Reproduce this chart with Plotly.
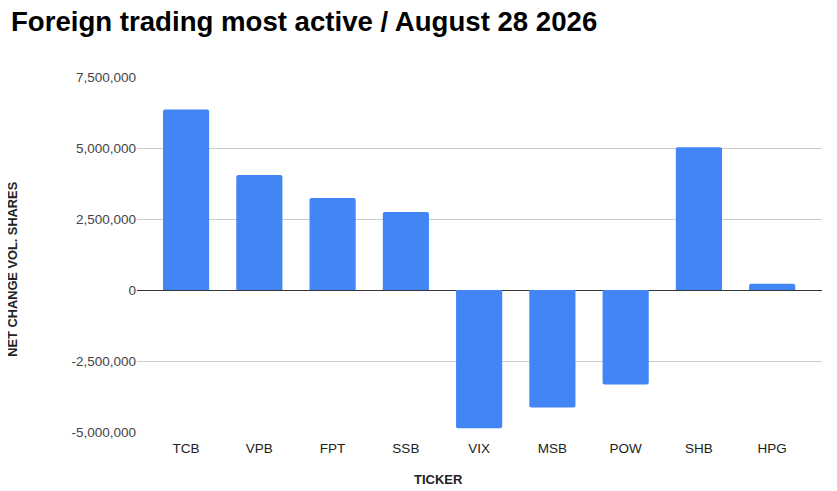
import plotly.graph_objects as go

tickers = ["TCB", "VPB", "FPT", "SSB", "VIX", "MSB", "POW", "SHB", "HPG"]
net_change = [6360000, 4050000, 3240000, 2750000, -4870000, -4140000, -3330000, 5030000, 220000]
y_ticks = [-5000000, -2500000, 0, 2500000, 5000000, 7500000]
y_tick_labels = ["-5,000,000", "-2,500,000", "0", "2,500,000", "5,000,000", "7,500,000"]

# page has an 8px body margin: figure coordinates = reference pixel - 8
OFF = 8
W, H = 837 - OFF, 491 - OFF
L, R, T, B = 137 - OFF, W - (822 - OFF), 77 - OFF, H - (432.5 - OFF)
PW = W - L - R
PH = H - T - B

def px_x(x):
    return (x - OFF - L) / PW

def px_y(y):
    return (H - B - (y - OFF)) / PH

fig = go.Figure(go.Bar(
    x=tickers, y=net_change,
    marker=dict(color="#4285f4", cornerradius=2, line=dict(width=0)),
    width=0.63,
))

fig.update_layout(
    width=W, height=H,
    paper_bgcolor="white", plot_bgcolor="white",
    margin=dict(l=L, r=R, t=T, b=B, autoexpand=False),
    font=dict(family="Liberation Sans, Arial, sans-serif", color="#444444", size=13.5),
    showlegend=False,
    annotations=[
        dict(text="<b>Foreign trading most active / August 28 2026</b>", xref="paper", yref="paper",
             x=px_x(9), y=px_y(21), xanchor="left", yanchor="middle", showarrow=False,
             font=dict(size=27.6, color="#000000")),
        dict(text="<b>TICKER</b>", xref="paper", yref="paper",
             x=px_x(438), y=px_y(480),
             xanchor="center", yanchor="middle", showarrow=False,
             font=dict(size=13, color="#222222")),
        dict(text="<b>NET CHANGE VOL. SHARES</b>", xref="paper", yref="paper",
             x=px_x(13), y=px_y(269),
             xanchor="center", yanchor="middle", showarrow=False, textangle=-90,
             font=dict(size=12.8, color="#222222")),
    ],
)

fig.update_xaxes(
    range=[-0.67, 8.68], showgrid=False, showline=False, ticks="", automargin=False,
    tickfont=dict(size=13.5, color="#222222"), ticklabelstandoff=6,
)
fig.update_yaxes(
    range=[-5000000, 7500000], tickvals=y_ticks, ticktext=y_tick_labels,
    showgrid=True, gridcolor="#cccccc", gridwidth=1, automargin=False,
    zeroline=True, zerolinecolor="#333333", zerolinewidth=1.2,
    tickfont=dict(size=13.5, color="#444444"), ticks="",
)

fig.write_html("out.html")
